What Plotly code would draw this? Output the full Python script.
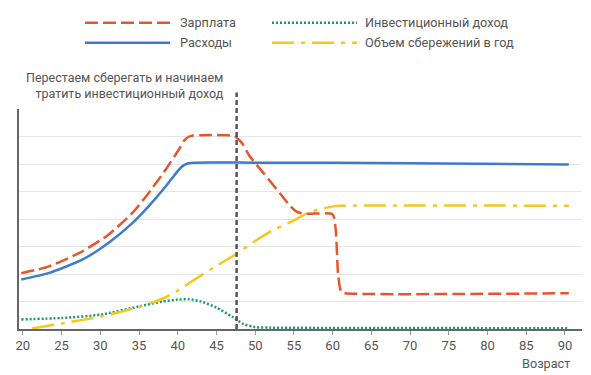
import plotly.graph_objects as go

# ---- data ----
salary_age = [19.8, 23.3, 27.6, 31, 34.1, 36.2, 38.4, 40.1, 40.8, 41.4, 42.0, 43, 47.0, 47.7, 48.4, 49.2, 51.1, 53.2, 54.6, 55.3, 56.0, 57, 60, 60.4, 60.7, 61.1, 61.6, 90.5]
salary_val = [2.03, 2.27, 2.81, 3.42, 4.21, 4.93, 5.78, 6.51, 6.84, 6.99, 7.04, 7.05, 7.03, 6.94, 6.72, 6.32, 5.66, 4.93, 4.45, 4.28, 4.21, 4.19, 4.17, 3.6, 2.0, 1.35, 1.3, 1.3]

exp_age = [19.8, 23.3, 27.6, 31, 34.1, 36.2, 38.4, 40.1, 40.7, 41.3, 42.2, 50, 70, 90.5]
exp_val = [1.8, 2.03, 2.51, 3.12, 3.84, 4.45, 5.17, 5.78, 5.94, 6.02, 6.05, 6.05, 6.03, 5.98]

inv_age = [19.8, 25, 30, 35, 38, 40, 41.5, 43, 45, 47, 48.5, 50, 52, 90.5]
inv_val = [0.35, 0.4, 0.52, 0.82, 1.0, 1.07, 1.08, 1.0, 0.78, 0.45, 0.18, 0.07, 0.05, 0.03]

sav_age = [21.2, 25, 30, 35, 38, 40, 43, 45, 47.5, 50, 52, 55, 56.7, 58, 60, 61, 90.5]
sav_val = [0.02, 0.2, 0.45, 0.8, 1.1, 1.4, 1.95, 2.3, 2.72, 3.2, 3.55, 3.95, 4.21, 4.33, 4.45, 4.48, 4.48]

stop_age = 47.6
x_ticks = [20, 25, 30, 35, 40, 45, 50, 55, 60, 65, 70, 75, 80, 85, 90]

names = ["Зарплата", "Расходы", "Инвестиционный доход", "Объем сбережений в год"]
note = "Перестаем сберегать и начинаем<br>тратить инвестиционный доход"
x_title = "Возраст"

# ---- style ----
C_SAL = "#E6562C"
C_EXP = "#3D7DC8"
C_INV = "#17996A"
C_SAV = "#F4C81C"
TXT = "#555555"
FONT = "Roboto"
D_SAL = "13px,5px"
D_INV = "2px,2px"
D_SAV = "22px,7px,4px,7px"
SM = 0.6

fig = go.Figure()
fig.add_trace(go.Scatter(x=inv_age, y=inv_val, mode="lines", line=dict(color=C_INV, width=2.5, dash=D_INV, shape="spline", smoothing=SM), showlegend=False))
fig.add_trace(go.Scatter(x=sav_age, y=sav_val, mode="lines", line=dict(color=C_SAV, width=2.5, dash=D_SAV, shape="spline", smoothing=SM), showlegend=False))
fig.add_trace(go.Scatter(x=exp_age, y=exp_val, mode="lines", line=dict(color=C_EXP, width=2.5, shape="spline", smoothing=SM), showlegend=False))
fig.add_trace(go.Scatter(x=salary_age, y=salary_val, mode="lines", line=dict(color=C_SAL, width=2.5, dash=D_SAL, shape="spline", smoothing=SM), showlegend=False))

# pin marker at top of vertical line
fig.add_trace(go.Scatter(x=[stop_age], y=[8.72], mode="markers", marker=dict(color="#555555", size=8, symbol="circle"),
                         cliponaxis=False, showlegend=False))

# vertical dashed line
fig.add_shape(type="line", xref="x", yref="paper", x0=stop_age, x1=stop_age, y0=0, y1=1.075,
              line=dict(color="#555555", width=2.5, dash="5px,3px"))

# manual legend
W = 563.0
H = 220.0
def px_x(p):
    return (p - 19) / W
def px_y(p):
    return (329 - p) / H

leg = [
    (85, 170, 178, 22.7, C_SAL, D_SAL, names[0]),
    (85, 170, 178, 42.7, C_EXP, "solid", names[1]),
    (272, 357, 363, 22.7, C_INV, D_INV, names[2]),
    (272, 357, 363, 42.7, C_SAV, D_SAV, names[3]),
]
for x0, x1, tx, yy, col, dash, nm in leg:
    fig.add_shape(type="line", xref="paper", yref="paper", x0=px_x(x0), x1=px_x(x1), y0=px_y(yy), y1=px_y(yy),
                  line=dict(color=col, width=2.5, dash=dash))
    fig.add_annotation(xref="paper", yref="paper", x=px_x(tx), y=px_y(yy), text=nm, showarrow=False,
                       xanchor="left", yanchor="middle", font=dict(family=FONT, size=12.7, color=TXT))

fig.add_annotation(xref="paper", yref="paper", x=px_x(226), y=px_y(85.5), text=note, showarrow=False,
                   xanchor="right", yanchor="middle", align="right", font=dict(family=FONT, size=12.5, color=TXT))
fig.add_annotation(xref="paper", yref="paper", x=px_x(572), y=px_y(363), text=x_title, showarrow=False,
                   xanchor="right", yanchor="middle", font=dict(family=FONT, size=12.7, color=TXT))

fig.update_layout(
    width=591, height=375,
    margin=dict(l=19, r=9, t=109, b=46),
    paper_bgcolor="white", plot_bgcolor="white",
    font=dict(family=FONT, size=13, color=TXT),
    showlegend=False,
)
fig.update_xaxes(range=[19.5, 92.2], tickvals=x_ticks, ticktext=[str(v) for v in x_ticks],
                 showgrid=False, zeroline=False, showline=True, linecolor="#666666", linewidth=1.5,
                 ticks="outside", ticklen=4, tickcolor="#999999", tickfont=dict(family=FONT, size=13, color=TXT))
fig.update_yaxes(range=[0, 8], dtick=1, showticklabels=False, showgrid=True, gridcolor="#E6E6E6", gridwidth=1,
                 zeroline=False, showline=True, linecolor="#666666", linewidth=1.5)

fig.write_html("out.html", config={"displayModeBar": False},
               post_script="document.body.style.margin='0';document.body.style.padding='0';")
